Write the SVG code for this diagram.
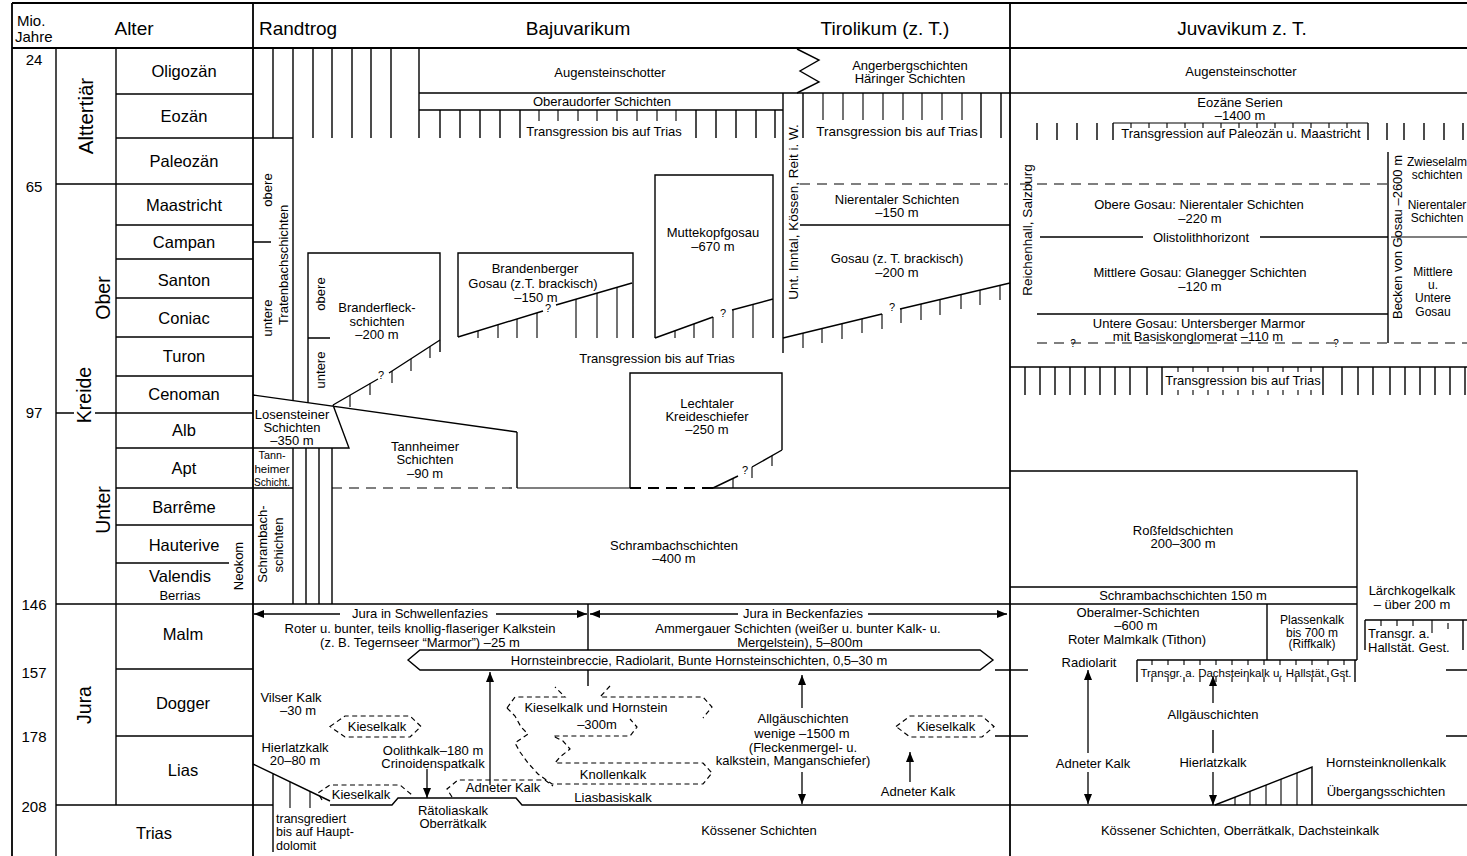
<svg xmlns="http://www.w3.org/2000/svg" width="1467" height="856" viewBox="0 0 1467 856">
<defs>
<style>
text{font-family:"Liberation Sans",Arial,Helvetica,sans-serif;font-size:13px;fill:#000;text-anchor:middle}
.l{stroke:#000;stroke-width:1.4;fill:none}
.f{stroke:#000;stroke-width:1.8;fill:none}
.t{stroke:#000;stroke-width:1.1;fill:none}
.d{stroke:#000;stroke-width:1.2;fill:none;stroke-dasharray:5 3.5}
.dl{stroke:#000;stroke-width:1.2;fill:none;stroke-dasharray:10 7}
.db{stroke:#000;stroke-width:2.2;fill:none;stroke-dasharray:11 7}
.ep{font-size:16.5px}
.hd{font-size:19px}
.pr{font-size:19.5px}
.mio{font-size:15px}
.sm{font-size:12px}
.xs{font-size:11.5px}
.st{text-anchor:start}
.r{dominant-baseline:central}
.q{font-size:11px}
.a{stroke:#000;stroke-width:1.3;fill:none;marker-end:url(#ah)}
</style>
<marker id="ah" viewBox="0 0 10 8" refX="10" refY="4" markerWidth="10" markerHeight="8" markerUnits="userSpaceOnUse" orient="auto"><path d="M0,0 L10,4 L0,8 Z" fill="#000"/></marker>
</defs>
<rect x="0" y="0" width="1467" height="856" fill="#fff"/>

<g id="frame">
<path class="f" d="M12,3H1467M12,3V856M12,48H1467M253,3V856M1010,3V856"/>
<path class="l" d="M56,48V856M116,48V805"/>
</g>

<g id="header">
<text class="st" x="17" y="26" style="font-size:15px">Mio.</text>
<text class="st" x="15" y="42" style="font-size:15px">Jahre</text>
<text class="hd" x="134" y="35">Alter</text>
<text class="hd st" x="259" y="35">Randtrog</text>
<text class="hd" x="578" y="35">Bajuvarikum</text>
<text class="hd" x="885" y="35">Tirolikum (z. T.)</text>
<text class="hd" x="1242" y="35">Juvavikum z. T.</text>
</g>

<g id="alter">
<path class="l" d="M116,94H253M116,138H253M56,184H253M116,225H253M116,259H253M116,298H253M116,337H253M116,376H253M56,413H74M95,413H253M116,448H253M116,488H253M116,525H253M116,563H229M56,604H253M116,669H253M116,736H253"/>
<text class="mio" x="34" y="65">24</text>
<text class="mio" x="34" y="192">65</text>
<text class="mio" x="34" y="418">97</text>
<text class="mio" x="34" y="610">146</text>
<text class="mio" x="34" y="678">157</text>
<text class="mio" x="34" y="742">178</text>
<text class="mio" x="34" y="812">208</text>
<text class="r" transform="translate(85,116) rotate(-90)" style="font-size:20.5px">Alttertiär</text>
<text class="r pr" transform="translate(84,395) rotate(-90)">Kreide</text>
<text class="r pr" transform="translate(103,298) rotate(-90)">Ober</text>
<text class="r pr" transform="translate(103,510) rotate(-90)">Unter</text>
<text class="r pr" transform="translate(84,705) rotate(-90)">Jura</text>
<text class="ep" x="184" y="77">Oligozän</text>
<text class="ep" x="184" y="122">Eozän</text>
<text class="ep" x="184" y="167">Paleozän</text>
<text class="ep" x="184" y="211">Maastricht</text>
<text class="ep" x="184" y="248">Campan</text>
<text class="ep" x="184" y="286">Santon</text>
<text class="ep" x="184" y="324">Coniac</text>
<text class="ep" x="184" y="362">Turon</text>
<text class="ep" x="184" y="400">Cenoman</text>
<text class="ep" x="184" y="436">Alb</text>
<text class="ep" x="184" y="474">Apt</text>
<text class="ep" x="184" y="513">Barrême</text>
<text class="ep" x="184" y="551">Hauterive</text>
<text class="ep" x="180" y="582">Valendis</text>
<text x="180" y="600">Berrias</text>
<text class="r" transform="translate(238,566) rotate(-90)">Neokom</text>
<text class="ep" x="183" y="640">Malm</text>
<text class="ep" x="183" y="709">Dogger</text>
<text class="ep" x="183" y="776">Lias</text>
<text class="ep" x="154" y="839">Trias</text>
</g>

<g id="randtrog-top">
<path class="l" d="M273,48V138M293,48V400.6M313,48V138M332,48V138M352,48V138M371,48V138M391,48V138M253,138H293M253,242H271"/>
<text class="r" transform="translate(267,190) rotate(-90)">obere</text>
<text class="r" transform="translate(267,318) rotate(-90)">untere</text>
<text class="r" transform="translate(283,265) rotate(-90)">Tratenbachschichten</text>
</g>

<g id="branderfleck">
<path class="l" d="M308,402.7V253H440V352M308,338H330"/>
<path class="l" d="M333,405L378,379M389,373L440,340"/>
<path class="t" d="M350,395V407M370,383.5V395M392,371V383M411,359V371M430,346.5V358"/>
<text class="q" x="381" y="379">?</text>
<text class="r" transform="translate(320,294) rotate(-90)">obere</text>
<text class="r" transform="translate(320,370) rotate(-90)">untere</text>
<text x="377" y="311.5">Branderfleck-</text>
<text x="377" y="325.5">schichten</text>
<text x="377" y="338.5">–200 m</text>
</g>

<g id="losensteiner">
<path class="l" d="M253,395L517,432M333,405L349,448H253"/>
<text x="292" y="418.5">Losensteiner</text>
<text x="292" y="431.5">Schichten</text>
<text x="292" y="444.5">–350 m</text>
</g>

<g id="tannheimer">
<path class="l" d="M253,488H293M517,432V488"/>
<path class="l" d="M293,448V604M306,448V604M319,448V604M332,448V604"/>
<text x="272" y="459" style="font-size:11px" textLength="27" lengthAdjust="spacingAndGlyphs">Tann-</text>
<text x="272" y="472.5" style="font-size:11px" textLength="35" lengthAdjust="spacingAndGlyphs">heimer</text>
<text x="272" y="486" style="font-size:11px" textLength="36" lengthAdjust="spacingAndGlyphs">Schicht.</text>
<text x="425" y="450.5">Tannheimer</text>
<text x="425" y="463.5">Schichten</text>
<text x="425" y="477.5">–90 m</text>
</g>

<g id="schrambach">
<path class="dl" d="M332,488H517"/>
<path class="t" d="M517,488H630"/>
<path class="db" d="M630,488H713"/>
<path class="l" d="M713,488H1010"/>
<text class="r" transform="translate(262,544) rotate(-90)">Schrambach-</text>
<text class="r" transform="translate(278,545) rotate(-90)">schichten</text>
<text x="674" y="550">Schrambachschichten</text>
<text x="674" y="563">–400 m</text>
</g>

<g id="augenstein-baju">
<path class="l" d="M419,93H797M419,110H783"/>
<path class="l" d="M797,49L819,60L800,71L819,82L797,93"/>
<text x="610" y="76.5">Augensteinschotter</text>
<text x="602" y="106">Oberaudorfer Schichten</text>
</g>

<g id="transgression-baju">
<path class="l" d="M419,48V138M440,110V138M460,110V138M480,110V138M500,110V138M520,110V138M696,110V138M716,110V138M736,110V138M756,110V138M775,110V138"/>
<path class="t" d="M539,110V121M558,110V121M578,110V121M597,110V121M617,110V121M637,110V121M657,110V121M676,110V121"/>
<text x="604" y="136">Transgression bis auf Trias</text>
<text x="657" y="363">Transgression bis auf Trias</text>
</g>

<g id="brandenberger">
<path class="l" d="M458,337V253H633V338M458,337L543,311M556,305L632,283"/>
<path class="t" d="M478,331V338M498,325V338M517,319V338M537,313V338M576,299V338M597,293V338M617,287V338"/>
<text class="q" x="548" y="312">?</text>
<text x="535" y="272.5">Brandenberger</text>
<text x="533" y="287.5">Gosau (z.T. brackisch)</text>
<text x="536" y="301.5">–150 m</text>
</g>

<g id="muttekopf">
<path class="l" d="M655,338V175H773V338M655,338L713,317M732,310L773,299"/>
<path class="t" d="M675,331V338M694,324V338M713,317V338M733,310V338M753,304V338"/>
<text class="q" x="723" y="317">?</text>
<text x="713" y="237">Muttekopfgosau</text>
<text x="713" y="250.5">–670 m</text>
</g>

<g id="lechtaler">
<path class="l" d="M630,488V373H782V450M713,488L738,476M752,467L782,450"/>
<path class="t" d="M733,478V488M752,467V478M772,456V466"/>
<text class="q" x="745" y="474">?</text>
<text x="707" y="407.5">Lechtaler</text>
<text x="707" y="420.5">Kreideschiefer</text>
<text x="707" y="433.5">–250 m</text>
</g>

<g id="tirolikum">
<path class="l" d="M797,93H1467M783,93V353M800,225H1010"/>
<path class="dl" d="M800,184H1008"/>
<path class="l" d="M803,93V138M981,93V138M1001,93V138"/>
<path class="t" d="M823,93V120M843,93V120M863,93V120M883,93V120M903,93V120M922,93V120M942,93V120M962,93V120"/>
<path class="l" d="M783,338L882,314M900,309L1010,283"/>
<path class="t" d="M803,333V348M822,329V343M842,324V339M862,319V333M882,314V329M901,309V323M921,304V320M940,300V315M961,295V309M980,290V305M1000,285V300"/>
<text class="q" x="892" y="311">?</text>
<text x="910" y="69.5">Angerbergschichten</text>
<text x="910" y="83">Häringer Schichten</text>
<text x="897" y="135.5" style="font-size:13.5px">Transgression bis auf Trias</text>
<text class="r" transform="translate(793,212) rotate(-90)" style="font-size:13.5px">Unt. Inntal, Kössen, Reit i. W.</text>
<text x="897" y="203.5">Nierentaler Schichten</text>
<text x="897" y="216.5">–150 m</text>
<text x="897" y="262.5">Gosau (z. T. brackisch)</text>
<text x="897" y="276.5">–200 m</text>
</g>

<g id="juvavikum-upper">
<path class="l" d="M1037,123V140M1057,123V140M1077,123V140M1097,123V140M1113,123V140M1368,123V140M1387,123V140M1404,123V140M1424,123V140M1444,123V140M1463,123V140"/>
<path class="t" d="M1113,123H1368M1131,123V128M1149,123V128M1167,123V128M1185,123V128M1203,123V128M1221,123V128M1239,123V128M1257,123V128M1275,123V128M1293,123V128M1311,123V128M1329,123V128M1347,123V128"/>
<path class="dl" d="M1020,184H1388"/>
<path class="l" d="M1040,237H1143M1260,237H1388M1037,314H1388M1388,152V343"/>
<path class="t" d="M1391,237H1467"/>
<path class="dl" d="M1037,343H1467"/>
<text x="1241" y="75.5">Augensteinschotter</text>
<text x="1240" y="106.5">Eozäne Serien</text>
<text x="1240" y="120">–1400 m</text>
<text x="1241" y="137.5">Transgression auf Paleozän u. Maastricht</text>
<text class="r" transform="translate(1027,230) rotate(-90)" style="font-size:13.5px">Reichenhall, Salzburg</text>
<text class="r" transform="translate(1397,237) rotate(-90)">Becken von Gosau –2600 m</text>
<text x="1199" y="208.5">Obere Gosau: Nierentaler Schichten</text>
<text x="1200" y="222.5">–220 m</text>
<text x="1201" y="241.5">Olistolithhorizont</text>
<text x="1200" y="276.5">Mittlere Gosau: Glanegger Schichten</text>
<text x="1200" y="290.5">–120 m</text>
<text x="1199" y="327.5">Untere Gosau: Untersberger Marmor</text>
<text x="1198" y="341">mit Basiskonglomerat –110 m</text>
<text x="1073" y="347" style="font-size:10px">?</text>
<text x="1336" y="347" style="font-size:10px">?</text>
<text class="sm" x="1437" y="166">Zwieselalm</text>
<text class="sm" x="1437" y="179">schichten</text>
<text class="sm" x="1437" y="208.5">Nierentaler</text>
<text class="sm" x="1437" y="222">Schichten</text>
<text class="sm" x="1433" y="275.5">Mittlere</text>
<text class="sm" x="1433" y="288.5">u.</text>
<text class="sm" x="1433" y="302">Untere</text>
<text class="sm" x="1433" y="315.5">Gosau</text>
</g>

<g id="juvavikum-transgression">
<path class="l" d="M1010,367H1467M1025,367V395M1040,367V395M1055,367V395M1070,367V395M1085,367V395M1100,367V395M1115,367V395M1130,367V395M1147,367V395M1162,367V395M1323,367V395M1342,367V395M1358,367V395M1373,367V395M1390,367V395M1405,367V395M1420,367V395M1435,367V395M1450,367V395M1465,367V395"/>
<path class="t" d="M1178,367V372M1193,367V372M1208,367V372M1223,367V372M1238,367V372M1253,367V372M1268,367V372M1283,367V372M1298,367V372M1311,367V372M1178,390V395M1193,390V395M1208,390V395M1223,390V395M1238,390V395M1253,390V395M1268,390V395M1283,390V395M1298,390V395M1311,390V395"/>
<text x="1243" y="384.5">Transgression bis auf Trias</text>
</g>

<g id="rossfeld">
<path class="l" d="M1010,471H1357V660M1010,587H1357M1010,604H1357"/>
<text x="1183" y="534.5">Roßfeldschichten</text>
<text x="1183" y="547.5">200–300 m</text>
<text x="1183" y="599.5">Schrambachschichten 150 m</text>
</g>

<g id="malm-juv">
<path class="l" d="M1267,604V660M1137,660H1357M1137,660V682M1355,660V682"/>
<path class="t" d="M1152,660V665M1168,660V665M1184,660V665M1200,660V665M1216,660V665M1232,660V665M1248,660V665M1264,660V665M1280,660V665M1296,660V665M1312,660V665M1328,660V665M1344,660V665M1152,677V682M1168,677V682M1184,677V682M1200,677V682M1216,677V682M1232,677V682M1248,677V682M1264,677V682M1280,677V682M1296,677V682M1312,677V682M1328,677V682M1344,677V682"/>
<text x="1138" y="616.5">Oberalmer-Schichten</text>
<text x="1136" y="630">–600 m</text>
<text x="1137" y="643.5">Roter Malmkalk (Tithon)</text>
<text class="sm" x="1312" y="624">Plassenkalk</text>
<text class="sm" x="1312" y="636.5">bis 700 m</text>
<text class="sm" x="1312" y="648">(Riffkalk)</text>
<text class="xs" x="1246" y="677">Transgr. a. Dachsteinkalk u. Hallstät. Gst.</text>
<text x="1089" y="666.5">Radiolarit</text>
</g>

<g id="laerchkogel">
<path class="l" d="M1365,620H1467M1365,620V650M1463,620V650"/>
<path class="t" d="M1381,620V626M1397,620V626M1413,620V626M1432,620V633M1448,623V629"/>
<text x="1412" y="594.5">Lärchkogelkalk</text>
<text x="1412" y="608.5">– über 200 m</text>
<text class="st" x="1368" y="638">Transgr. a.</text>
<text class="st" x="1368" y="652">Hallstät. Gest.</text>
</g>

<g id="jura-juv">
<path class="l" d="M995,670H1028M995,736H1028M1446,670H1467M1446,736H1467"/>
<path class="l" d="M1215,805L1312,767V805"/>
<path class="t" d="M1235,797V805M1250,791V805M1266,785V805M1281,779V805M1297,773V805"/>
<text x="1093" y="767.5">Adneter Kalk</text>
<text x="1213" y="719">Allgäuschichten</text>
<text x="1213" y="767">Hierlatzkalk</text>
<text x="1386" y="767">Hornsteinknollenkalk</text>
<text x="1386" y="796">Übergangsschichten</text>
<text x="1240" y="835">Kössener Schichten, Oberrätkalk, Dachsteinkalk</text>
</g>

<g id="jura-randtrog-baju">
<path class="l" d="M253,604H1010M588,604V650M588,670V686"/>
<path class="l" d="M408,660L420,650H980L993,660L980,670H420Z"/>
<path class="l" d="M56,805H273M330,805H392L398,798H516L522,805H1467"/>
<path class="l" d="M253,764L330,801M273,774V852"/>
<path class="t" d="M290,782V808M310,791V808"/>
<text x="420" y="617.5">Jura in Schwellenfazies</text>
<text x="420" y="632.5">Roter u. bunter, teils knollig-flaseriger Kalkstein</text>
<text x="420" y="647">(z. B. Tegernseer “Marmor”) –25 m</text>
<text x="803" y="617.5">Jura in Beckenfazies</text>
<text x="798" y="632.5">Ammergauer Schichten (weißer u. bunter Kalk- u.</text>
<text x="800" y="647">Mergelstein), 5–800m</text>
<text x="699" y="664.5">Hornsteinbreccie, Radiolarit, Bunte Hornsteinschichten, 0,5–30 m</text>
<text x="291" y="701.5">Vilser Kalk</text>
<text x="298" y="714.5">–30 m</text>
<text x="295" y="751.5">Hierlatzkalk</text>
<text x="295" y="764.5">20–80 m</text>
<text x="433" y="754.5">Oolithkalk–180 m</text>
<text x="433" y="767.5">Crinoidenspatkalk</text>
<text x="453" y="814.5">Rätoliaskalk</text>
<text x="453" y="827.5">Oberrätkalk</text>
<text class="st" x="276" y="822.5" style="font-size:12.5px">transgrediert</text>
<text class="st" x="276" y="836" style="font-size:12.5px">bis auf Haupt-</text>
<text class="st" x="276" y="849.5" style="font-size:12.5px">dolomit</text>
<text x="759" y="835">Kössener Schichten</text>
</g>

<g id="kieselkalk-complex">
<path class="d" d="M330,726.5L345,716H410L421,726.5L410,737H345Z"/>
<text x="377" y="731">Kieselkalk</text>
<path class="d" d="M896,726.5L910,716H982L994,726.5L982,737H910Z"/>
<text x="946" y="731">Kieselkalk</text>
<path class="d" d="M322,800L318,793L330,785H400L412,795"/>
<text x="361" y="799">Kieselkalk</text>
<path class="d" d="M452,797L447,789L458,780H545L553,786"/>
<text x="503" y="791.5">Adneter Kalk</text>
<path class="d" d="M507,708L515,697H565L555,687M610,686L600,697H703L712,707L703,718M507,708L515,716L521,727L528,734L515,743L520,752L528,763L538,774L552,784H703L712,773L703,763H555L560,757L570,749L563,741L553,736H630L637,727L630,719"/>
<text x="596" y="711.5">Kieselkalk und Hornstein</text>
<text x="597" y="728.5">–300m</text>
<text x="613" y="778.5">Knollenkalk</text>
<text x="613" y="801.5">Liasbasiskalk</text>
<text x="803" y="722.5">Allgäuschichten</text>
<text x="802" y="738">wenige –1500 m</text>
<text x="803" y="751.5">(Fleckenmergel- u.</text>
<text x="793" y="764.5">kalkstein, Manganschiefer)</text>
<text x="918" y="795.5">Adneter Kalk</text>
</g>

<g id="connectors">
<path class="a" d="M340,614H254"/>
<path class="a" d="M496,614H587"/>
<path class="a" d="M738,614H590"/>
<path class="a" d="M868,614H1007"/>
<path class="a" d="M490,785V672"/>
<path class="a" d="M427,769V798"/>
<path class="a" d="M802,708V675"/>
<path class="a" d="M802,772V804"/>
<path class="a" d="M910,782V752"/>
<path class="a" d="M1088,753V670"/>
<path class="a" d="M1088,772V804"/>
<path class="a" d="M1213,703V676"/>
<path class="l" d="M1213,730V753"/>
<path class="a" d="M1213,772V805"/>
</g>
</svg>
